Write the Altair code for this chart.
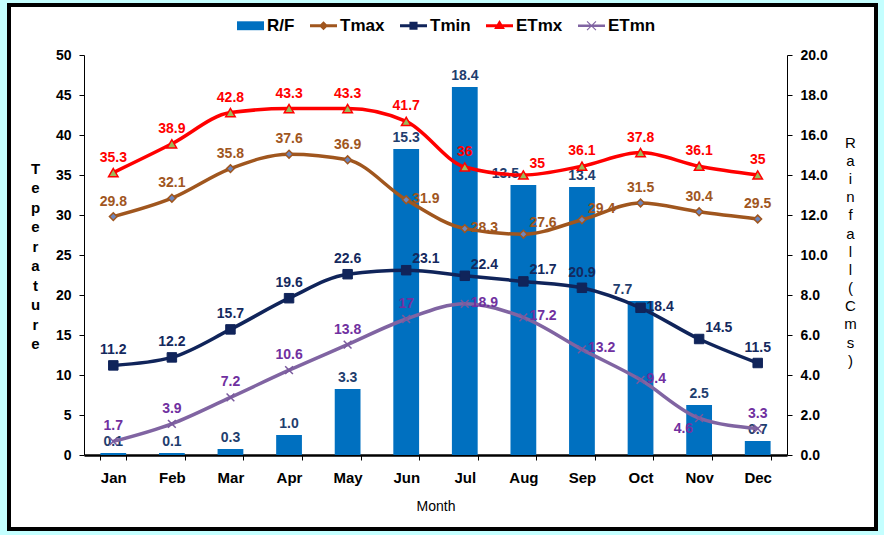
import altair as alt
import pandas as pd

months = ["Jan", "Feb", "Mar", "Apr", "May", "Jun", "Jul", "Aug", "Sep", "Oct", "Nov", "Dec"]
rainfall = [0.1, 0.1, 0.3, 1.0, 3.3, 15.3, 18.4, 13.5, 13.4, 7.7, 2.5, 0.7]
tmax = [29.8, 32.1, 35.8, 37.6, 36.9, 31.9, 28.3, 27.6, 29.4, 31.5, 30.4, 29.5]
tmin = [11.2, 12.2, 15.7, 19.6, 22.6, 23.1, 22.4, 21.7, 20.9, 18.4, 14.5, 11.5]
etmx = [35.3, 38.9, 42.8, 43.3, 43.3, 41.7, 36, 35, 36.1, 37.8, 36.1, 35]
etmn = [1.7, 3.9, 7.2, 10.6, 13.8, 17, 18.9, 17.2, 13.2, 9.4, 4.6, 3.3]

series_names = ["R/F", "Tmax", "Tmin", "ETmx", "ETmn"]

FONT = "Liberation Sans"
W, H = 703, 400
PAD = {"left": 84, "top": 55, "right": 97, "bottom": 80}

rain_df = pd.DataFrame({"month": months, "value": rainfall})

x_enc = alt.X(
    "month:N",
    sort=months,
    scale=alt.Scale(domain=months, paddingInner=0.56, paddingOuter=0.28),
    axis=alt.Axis(
        title="Month", titleFontWeight="normal", titleFontSize=14, titlePadding=14,
        labelFontWeight="bold", labelFontSize=15, labelAngle=0, labelPadding=10,
        tickBand="extent", tickSize=5, domainWidth=2.5, domainColor="black",
        tickColor="black", labelColor="black", titleColor="black",
    ),
)

temp_y = alt.Y(
    "value:Q",
    scale=alt.Scale(domain=[0, 50], nice=False),
    axis=alt.Axis(
        orient="left", values=list(range(0, 51, 5)), grid=False,
        labelFontWeight="bold", labelFontSize=14, labelPadding=8, tickSize=5,
        domainColor="black", tickColor="black", labelColor="black",
        title=list("Teperature"), titleAngle=0, titleFontSize=15, titleFontWeight="bold",
        titleLineHeight=19.5, titleAlign="center", titleBaseline="middle",
        titleX=-49, titleY=113, titleColor="black",
    ),
)

rain_y = alt.Y(
    "value:Q",
    scale=alt.Scale(domain=[0, 20], nice=False),
    axis=alt.Axis(
        orient="right", values=list(range(0, 21, 2)), format=".1f", grid=False,
        labelFontWeight="bold", labelFontSize=14, labelPadding=8, tickSize=5,
        domainColor="black", tickColor="black", labelColor="black",
        title=list("Rainfall(Cms)"), titleAngle=0, titleFontSize=15, titleFontWeight="normal",
        titleLineHeight=18.2, titleAlign="center", titleBaseline="middle",
        titleX=63, titleY=87, titleColor="black",
    ),
)

# Label placements around a point: (align, baseline, dx, dy)
PLACE = {
    "above": ("center", "bottom", 0, -8),
    "right": ("left", "middle", 6, -1),
    "upright": ("left", "bottom", 6, -4),
    "downleft": ("right", "top", -6, 4),
    "upleft": ("center", "bottom", -18, -4),
}


def text_layers(df, y_enc, color, placement, fmt=None, default="above", base_dy=None):
    """One text layer per placement group; months not listed use the default placement."""
    layers = []
    listed = [m for ms in placement.values() for m in ms]
    groups = dict(placement)
    groups[default] = [m for m in months if m not in listed]
    for kind, ms in groups.items():
        if not ms:
            continue
        align, baseline, dx, dy = PLACE[kind]
        if base_dy is not None and kind == default:
            dy = base_dy
        txt = alt.Text("value:Q", format=fmt) if fmt else alt.Text("value:Q")
        layers.append(
            alt.Chart(df)
            .transform_filter(alt.FieldOneOfPredicate(field="month", oneOf=ms))
            .mark_text(font=FONT, fontSize=14, fontWeight="bold", color=color,
                       align=align, baseline=baseline, dx=dx, dy=dy)
            .encode(x=x_enc, y=y_enc, text=txt)
        )
    return layers


# Rainfall bars on the right-hand axis with their value labels
bars = alt.Chart(rain_df).mark_bar(color="#0070C0").encode(x=x_enc, y=rain_y)
rain_group = alt.layer(
    bars,
    *text_layers(rain_df, rain_y, "#1F3E6E", {"upleft": ["Aug", "Oct"]}, fmt=".1f", base_dy=-4),
)

# Temperature series: line, marker and label styles
styles = {
    "Tmax": dict(values=tmax, line="#A0561E", label="#A0561E",
                 place={"right": ["Jun", "Jul"], "upright": ["Aug", "Sep"]},
                 marker=dict(shape="diamond", size=60, fill="#6C86BE", stroke="#A0561E", strokeWidth=1.5, filled=True)),
    "Tmin": dict(values=tmin, line="#10245A", label="#14295E",
                 place={"upright": ["Jun", "Jul", "Aug", "Nov"], "right": ["Oct"]},
                 marker=dict(shape="square", size=90, fill="#10245A", stroke="#10245A", strokeWidth=1, filled=True)),
    "ETmx": dict(values=etmx, line="#FF0000", label="#FF0000",
                 place={"upright": ["Aug"]},
                 marker=dict(shape="triangle-up", size=90, fill="#9BBB59", stroke="#FF0000", strokeWidth=1.5, filled=True)),
    "ETmn": dict(values=etmn, line="#8064A2", label="#7030A0",
                 place={"right": ["Jul", "Aug", "Sep", "Oct"], "downleft": ["Nov"]},
                 marker=dict(shape="M-1,-1L1,1M1,-1L-1,1", size=60, stroke="#7A5A9E", strokeWidth=1.5, filled=False)),
}

temp_layers = []
for name, st in styles.items():
    df = pd.DataFrame({"month": months, "value": st["values"]})
    base = alt.Chart(df)
    temp_layers.append(
        base.mark_line(color=st["line"], strokeWidth=3.5, interpolate="monotone").encode(x=x_enc, y=temp_y)
    )
    temp_layers.append(base.mark_point(opacity=1, **st["marker"]).encode(x=x_enc, y=temp_y))
    temp_layers.extend(text_layers(df, temp_y, st["label"], st["place"]))

# Legend: symbols combine a line segment with each series marker
legend_paths = [
    "M-1,-0.33L1,-0.33L1,0.33L-1,0.33Z",
    "M-1,-0.11L1,-0.11L1,0.11L-1,0.11Z M0,-0.34L0.34,0L0,0.34L-0.34,0Z",
    "M-1,-0.11L1,-0.11L1,0.11L-1,0.11Z M-0.3,-0.3L0.3,-0.3L0.3,0.3L-0.3,0.3Z",
    "M-1,-0.11L1,-0.11L1,0.11L-1,0.11Z M0,-0.42L0.4,0.24L-0.4,0.24Z",
    "M-1,-0.1L1,-0.1L1,0.1L-1,0.1Z M-0.36,-0.3L-0.3,-0.36L0.36,0.3L0.3,0.36Z M0.3,-0.36L0.36,-0.3L-0.3,0.36L-0.36,0.3Z",
]
legend_colors = ["#0070C0", "#A0561E", "#10245A", "#FF0000", "#8064A2"]
legend_def = alt.Legend(
    title=None, orient="none", direction="horizontal", columns=5,
    legendX=153, legendY=-43, padding=0, symbolSize=729, symbolStrokeWidth=0,
    labelFont=FONT, labelFontSize=17, labelFontWeight="bold", labelColor="black",
    labelOffset=3, columnPadding=15, symbolOpacity=1,
)
legend_layer = (
    alt.Chart(pd.DataFrame({"series": series_names}))
    .mark_point(filled=True, opacity=1)
    .encode(
        color=alt.Color("series:N", scale=alt.Scale(domain=series_names, range=legend_colors), legend=legend_def),
        shape=alt.Shape("series:N", scale=alt.Scale(domain=series_names, range=legend_paths), legend=legend_def),
    )
    .transform_filter("false")
)

temp_group = alt.layer(*temp_layers, legend_layer)

# Page frame: light cyan margin and a black border
frame_df = pd.DataFrame({"k": [0]})
outer = alt.Chart(frame_df).mark_rect(fill="white", fillOpacity=0, stroke="#C4FFFF", strokeWidth=14).encode(
    x=alt.value(-PAD["left"]), x2=alt.value(W + PAD["right"]),
    y=alt.value(-PAD["top"]), y2=alt.value(H + PAD["bottom"]),
)
border = alt.Chart(frame_df).mark_rect(fill="white", fillOpacity=0, stroke="black", strokeWidth=4).encode(
    x=alt.value(9 - PAD["left"]), x2=alt.value(876 - PAD["left"]),
    y=alt.value(5 - PAD["top"]), y2=alt.value(529 - PAD["top"]),
)

chart = (
    alt.layer(outer, border, rain_group, temp_group)
    .resolve_scale(y="independent")
    .properties(width=W, height=H, padding=PAD, autosize=alt.AutoSizeParams(type="none"), background="white")
    .configure_view(strokeWidth=0)
    .configure_axis(labelFont=FONT, titleFont=FONT)
    .configure_text(font=FONT)
)

chart.save("out.html", embed_options={"renderer": "svg", "actions": False})
